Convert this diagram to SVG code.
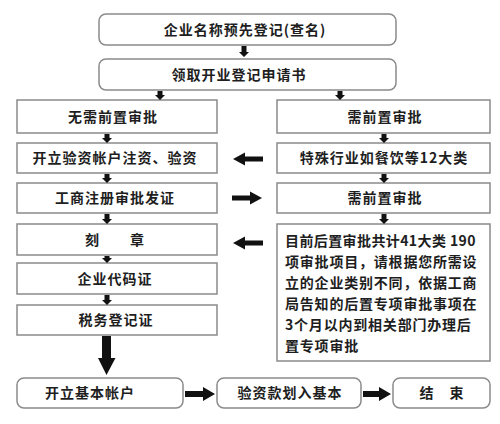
<svg xmlns="http://www.w3.org/2000/svg" width="500" height="424" viewBox="0 0 500 424">
<style>
.box{fill:#fff;stroke:#8a8a8a;stroke-width:1.5}
.t{font-family:"Noto Sans CJK SC","Noto Sans",sans-serif;font-weight:bold;font-size:14px;fill:#1e1e1e;letter-spacing:1px;text-anchor:middle}
.tl{font-family:"Noto Sans CJK SC","Noto Sans",sans-serif;font-weight:bold;font-size:14px;fill:#1e1e1e;letter-spacing:0.8px}
.a{fill:#111;stroke:none}
</style>
<rect width="500" height="424" fill="#fff"/>
<g id="n1"><rect class="box" x="99" y="14" width="297" height="31" rx="7"/><text class="t" x="245" y="35">企业名称预先登记(查名)</text></g>
<g id="n2"><rect class="box" x="99" y="59" width="297" height="31" rx="7"/><text class="t" x="239" y="80">领取开业登记申请书</text></g>
<g id="n3"><rect class="box" x="17" y="100" width="200" height="33"/><text class="t" x="113" y="122">无需前置审批</text></g>
<g id="n4"><rect class="box" x="277" y="100" width="213" height="33"/><text class="t" x="385" y="122">需前置审批</text></g>
<g id="n5"><rect class="box" x="17" y="143" width="200" height="30"/><text class="t" x="115" y="163">开立验资帐户注资、验资</text></g>
<g id="n6"><rect class="box" x="277" y="143" width="213" height="30"/><text class="t" x="384" y="163">特殊行业如餐饮等12大类</text></g>
<g id="n7"><rect class="box" x="17" y="183" width="200" height="30"/><text class="t" x="115" y="203">工商注册审批发证</text></g>
<g id="n8"><rect class="box" x="277" y="183" width="213" height="30"/><text class="t" x="385" y="203">需前置审批</text></g>
<g id="n9"><rect class="box" x="17" y="224" width="200" height="31"/><text class="t" x="115" y="245">刻　　章</text></g>
<g id="n10"><rect class="box" x="277" y="224" width="213" height="137"/>
<text class="tl" x="285" y="246" style="letter-spacing:0.4px">目前后置审批共计41大类 190</text>
<text class="tl" x="285" y="267">项审批项目，请根据您所需设</text>
<text class="tl" x="285" y="288">立的企业类别不同，依据工商</text>
<text class="tl" x="285" y="309">局告知的后置专项审批事项在</text>
<text class="tl" x="285" y="330">3个月以内到相关部门办理后</text>
<text class="tl" x="285" y="351">置专项审批</text>
</g>
<g id="n11"><rect class="box" x="17" y="263" width="200" height="31"/><text class="t" x="115" y="284">企业代码证</text></g>
<g id="n12"><rect class="box" x="17" y="305" width="200" height="30"/><text class="t" x="116" y="325">税务登记证</text></g>
<g id="n13"><rect class="box" x="17" y="378" width="166" height="30" rx="7"/><text class="t" x="90" y="398">开立基本帐户</text></g>
<g id="n14"><rect class="box" x="217" y="378" width="144" height="30" rx="7"/><text class="t" x="290" y="398">验资款划入基本</text></g>
<g id="n15"><rect class="box" x="393" y="378" width="97" height="30" rx="7"/><text class="t" x="442" y="398">结　束</text></g>
<g id="connectors">
<polygon class="a" points="241.5,46 246.5,46 246.5,52 249,52 244,57 239,52 241.5,52"/>
<polygon class="a" points="157.5,91 162.5,91 162.5,95 165,95 160,100 155,95 157.5,95"/>
<polygon class="a" points="337.5,91 342.5,91 342.5,95 345,95 340,100 335,95 337.5,95"/>
<polygon class="a" points="104.5,134 109.5,134 109.5,138 112,138 107,143 102,138 104.5,138"/>
<polygon class="a" points="381.5,134 386.5,134 386.5,138 389,138 384,143 379,138 381.5,138"/>
<polygon class="a" points="104.5,174 109.5,174 109.5,178 112,178 107,183 102,178 104.5,178"/>
<polygon class="a" points="381.5,174 386.5,174 386.5,178 389,178 384,183 379,178 381.5,178"/>
<polygon class="a" points="104.5,214 109.5,214 109.5,219 112,219 107,224 102,219 104.5,219"/>
<polygon class="a" points="381.5,214 386.5,214 386.5,219 389,219 384,224 379,219 381.5,219"/>
<polygon class="a" points="104.5,256 109.5,256 109.5,258 112,258 107,263 102,258 104.5,258"/>
<polygon class="a" points="104.5,295 109.5,295 109.5,300 112,300 107,305 102,300 104.5,300"/>
<polygon class="a" points="263,156.5 245,156.5 245,152.5 233,159 245,165.5 245,161.5 263,161.5"/>
<polygon class="a" points="232,195.5 250,195.5 250,191.5 262,198 250,204.5 250,200.5 232,200.5"/>
<polygon class="a" points="263,240.5 245,240.5 245,236.5 233,243 245,249.5 245,245.5 263,245.5"/>
<polygon class="a" points="102,336 111,336 111,358 115.5,358 106.5,375 98,358 102,358"/>
<polygon class="a" points="185,391 203,391 203,387 215,394 203,401 203,397 185,397"/>
<polygon class="a" points="363,391 379,391 379,387 391,394 379,401 379,397 363,397"/>
</g>
</svg>
